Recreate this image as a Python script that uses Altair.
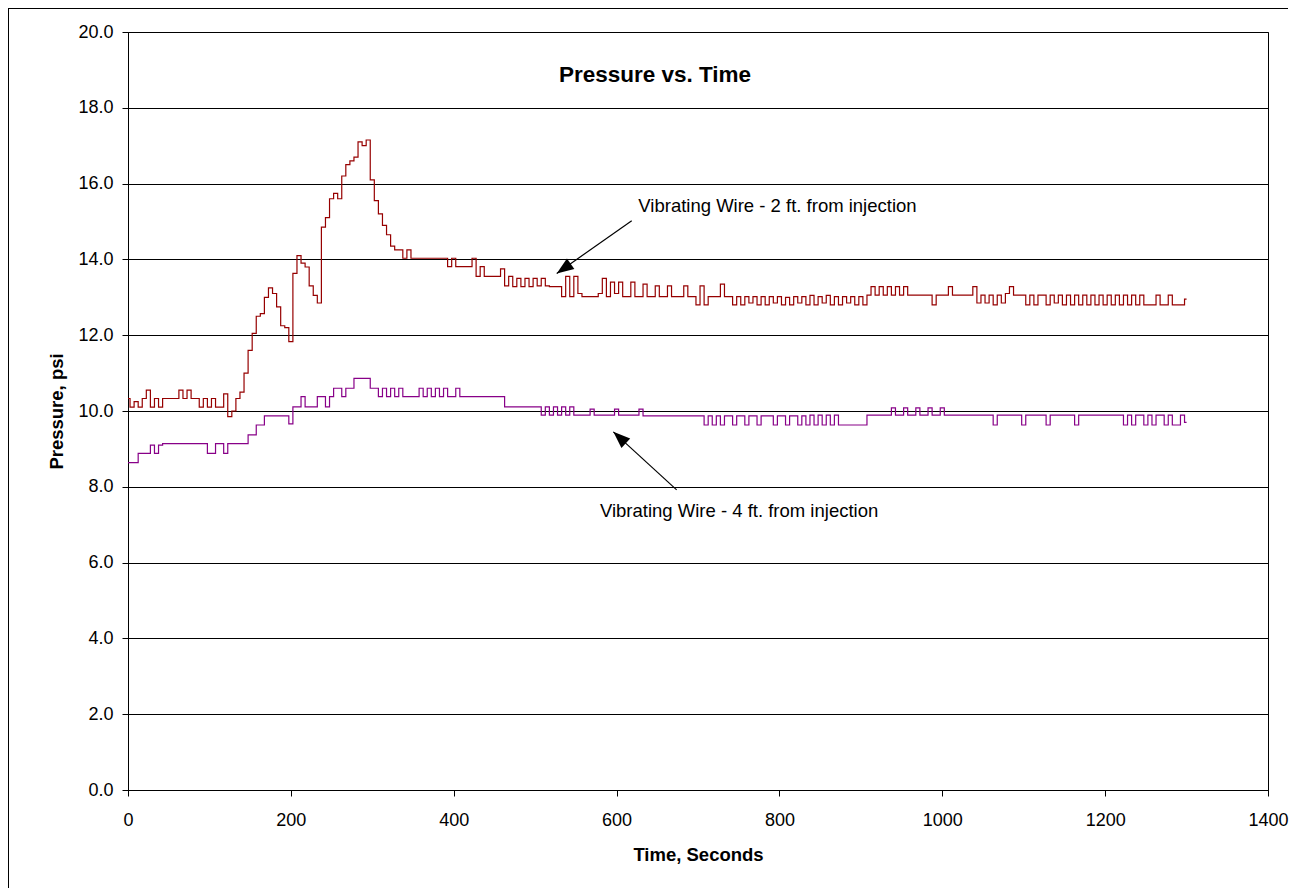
import altair as alt
import pandas as pd

# ---------------- data ----------------
TIME_S = list(range(0, 1301, 5))

VW_2FT = [
    10.33, 10.10, 10.25, 10.10, 10.33, 10.55, 10.10, 10.33, 10.10, 10.33,
    10.33, 10.33, 10.33, 10.55, 10.33, 10.55, 10.33, 10.33, 10.10, 10.33,
    10.10, 10.33, 10.10, 10.10, 10.45, 9.85, 10.00, 10.33, 10.50, 11.00,
    11.60, 12.05, 12.50, 12.57, 13.00, 13.25, 13.10, 12.75, 12.25, 12.20,
    11.83, 13.63, 14.10, 13.90, 13.80, 13.30, 13.05, 12.85, 14.85, 15.10,
    15.60, 15.74, 15.60, 16.20, 16.50, 16.60, 16.70, 17.10, 17.00, 17.15,
    16.10, 15.55, 15.20, 14.90, 14.65, 14.35, 14.25, 14.25, 14.03, 14.25,
    14.03, 14.03, 14.03, 14.03, 14.03, 14.03, 14.03, 14.03, 14.03, 13.81,
    14.03, 13.81, 13.81, 13.81, 13.81, 14.03, 13.55, 13.81, 13.55, 13.55,
    13.55, 13.55, 13.75, 13.30, 13.55, 13.28, 13.50, 13.28, 13.50, 13.28,
    13.50, 13.30, 13.50, 13.30, 13.28, 13.28, 13.28, 13.02, 13.55, 13.02,
    13.55, 13.10, 13.02, 13.02, 13.02, 13.02, 13.10, 13.50, 13.02, 13.40,
    13.10, 13.40, 13.02, 13.02, 13.40, 13.02, 13.02, 13.35, 13.02, 13.02,
    13.30, 13.02, 13.02, 13.30, 13.02, 13.02, 13.02, 13.30, 13.02, 13.02,
    12.80, 13.30, 12.80, 13.02, 13.02, 13.02, 13.35, 13.02, 13.02, 12.80,
    13.02, 12.80, 13.02, 12.85, 13.02, 12.80, 13.02, 12.80, 13.02, 12.85,
    13.02, 12.80, 13.00, 12.80, 13.02, 12.85, 13.02, 12.80, 13.05, 12.80,
    13.02, 12.85, 13.05, 12.80, 13.02, 12.80, 13.02, 12.85, 13.02, 12.80,
    13.02, 12.80, 13.06, 13.28, 13.06, 13.28, 13.06, 13.28, 13.06, 13.28,
    13.06, 13.28, 13.06, 13.06, 13.06, 13.06, 13.06, 13.06, 12.80, 13.06,
    13.06, 13.06, 13.28, 13.06, 13.06, 13.06, 13.06, 13.06, 13.28, 12.85,
    13.06, 12.85, 13.06, 12.80, 13.06, 12.85, 13.10, 13.28, 13.06, 13.06,
    13.06, 12.80, 13.06, 12.80, 13.06, 13.06, 12.80, 13.06, 12.85, 13.06,
    12.80, 13.06, 12.80, 13.06, 12.80, 13.06, 12.80, 13.06, 12.80, 13.06,
    12.80, 13.06, 12.80, 13.06, 12.80, 13.06, 12.80, 13.06, 12.80, 13.06,
    12.80, 12.80, 12.80, 13.06, 12.80, 12.80, 13.06, 12.80, 12.80, 12.80,
    12.95,
]

VW_4FT = [
    8.64, 8.64, 8.64, 8.88, 8.88, 8.88, 9.10, 8.88, 9.10, 9.14,
    9.14, 9.14, 9.14, 9.14, 9.14, 9.14, 9.14, 9.14, 9.14, 9.14,
    8.88, 8.88, 9.14, 9.14, 8.88, 9.14, 9.14, 9.14, 9.14, 9.14,
    9.37, 9.37, 9.63, 9.63, 9.87, 9.87, 9.87, 9.87, 9.87, 9.87,
    9.66, 10.11, 10.11, 10.38, 10.11, 10.11, 10.11, 10.38, 10.38, 10.11,
    10.38, 10.60, 10.60, 10.38, 10.60, 10.60, 10.86, 10.86, 10.86, 10.86,
    10.60, 10.60, 10.38, 10.60, 10.38, 10.60, 10.38, 10.60, 10.38, 10.38,
    10.38, 10.38, 10.60, 10.38, 10.60, 10.38, 10.60, 10.38, 10.60, 10.38,
    10.38, 10.60, 10.38, 10.38, 10.38, 10.38, 10.38, 10.38, 10.38, 10.38,
    10.38, 10.38, 10.38, 10.11, 10.11, 10.11, 10.11, 10.11, 10.11, 10.11,
    10.11, 10.11, 9.89, 10.11, 9.89, 10.11, 9.89, 10.11, 9.89, 10.11,
    9.89, 9.89, 9.89, 9.89, 10.05, 9.89, 9.89, 9.89, 9.89, 9.89,
    10.05, 9.89, 9.89, 9.89, 9.89, 9.89, 10.05, 9.87, 9.87, 9.87,
    9.87, 9.87, 9.87, 9.87, 9.87, 9.87, 9.87, 9.87, 9.87, 9.87,
    9.87, 9.87, 9.63, 9.87, 9.63, 9.87, 9.63, 9.87, 9.87, 9.63,
    9.87, 9.87, 9.63, 9.87, 9.87, 9.63, 9.87, 9.87, 9.87, 9.63,
    9.87, 9.87, 9.63, 9.87, 9.87, 9.63, 9.87, 9.63, 9.89, 9.63,
    9.89, 9.63, 9.89, 9.63, 9.89, 9.63, 9.63, 9.63, 9.63, 9.63,
    9.63, 9.63, 9.89, 9.89, 9.89, 9.89, 9.89, 9.89, 10.08, 9.89,
    9.89, 10.08, 9.89, 9.89, 10.08, 9.89, 9.89, 10.08, 9.89, 9.89,
    10.08, 9.89, 9.89, 9.89, 9.89, 9.89, 9.89, 9.89, 9.89, 9.89,
    9.89, 9.89, 9.89, 9.63, 9.89, 9.89, 9.89, 9.89, 9.89, 9.89,
    9.63, 9.89, 9.89, 9.89, 9.89, 9.89, 9.63, 9.89, 9.89, 9.89,
    9.89, 9.89, 9.89, 9.63, 9.89, 9.89, 9.89, 9.89, 9.89, 9.89,
    9.89, 9.89, 9.89, 9.89, 9.89, 9.63, 9.89, 9.63, 9.89, 9.89,
    9.63, 9.89, 9.63, 9.89, 9.89, 9.63, 9.89, 9.63, 9.63, 9.89,
    9.70,
]

SERIES = ["Vibrating Wire - 2 ft. from injection", "Vibrating Wire - 4 ft. from injection"]
COLORS = ["#960000", "#880088"]

X_TICKS = [0, 200, 400, 600, 800, 1000, 1200, 1400]
Y_TICKS = [0, 2, 4, 6, 8, 10, 12, 14, 16, 18, 20]

TITLE = "Pressure vs. Time"
X_TITLE = "Time, Seconds"
Y_TITLE = "Pressure, psi"

# annotation labels and arrows (data units)
LABEL_TEXT = SERIES
LABEL_T = [626.7, 579.6]
LABEL_P = [15.25, 7.20]
ARROW_T_FROM = [618.6, 673.8]
ARROW_P_FROM = [15.02, 7.92]
ARROW_T_TO = [526.5, 596.0]
ARROW_P_TO = [13.63, 9.45]
ARROW_ANGLE = [235, 312.6]

FONT = "Liberation Sans"

# ---------------- tables ----------------
rows = []
for t, v in zip(TIME_S, VW_2FT):
    rows.append({"time": t, "pressure": v, "series": SERIES[0]})
for t, v in zip(TIME_S, VW_4FT):
    rows.append({"time": t, "pressure": v, "series": SERIES[1]})
df = pd.DataFrame(rows)

labels_df = pd.DataFrame({"time": LABEL_T, "pressure": LABEL_P, "label": LABEL_TEXT})
arrows_df = pd.DataFrame({
    "time": ARROW_T_FROM, "pressure": ARROW_P_FROM,
    "time2": ARROW_T_TO, "pressure2": ARROW_P_TO,
})
heads_df = pd.DataFrame({"time": ARROW_T_TO, "pressure": ARROW_P_TO, "ang": ARROW_ANGLE})
title_df = pd.DataFrame({"label": [TITLE]})
frame_df = pd.DataFrame({"k": [0]})

x_scale = alt.Scale(domain=[0, 1400], nice=False)
y_scale = alt.Scale(domain=[0, 20], nice=False)

lines = alt.Chart(df).mark_line(strokeWidth=1.2, interpolate="step").encode(
    x=alt.X("time:Q", scale=x_scale,
            axis=alt.Axis(values=X_TICKS, format="d", title=X_TITLE, grid=False,
                          labelFlush=False,
                          labelPadding=15, titleY=70, titleBaseline="alphabetic")),
    y=alt.Y("pressure:Q", scale=y_scale,
            axis=alt.Axis(values=Y_TICKS, format=".1f", title=Y_TITLE, grid=True,
                          labelFlush=False,
                          labelPadding=9, titleX=-72, titleBaseline="middle")),
    color=alt.Color("series:N", scale=alt.Scale(domain=SERIES, range=COLORS), legend=None),
)

arrows = alt.Chart(arrows_df).mark_rule(color="black", strokeWidth=1.2).encode(
    x="time:Q", y="pressure:Q", x2="time2:Q", y2="pressure2:Q",
)

heads = alt.Chart(heads_df).mark_point(
    shape="M0,0L0.38,1L-0.38,1Z", filled=True, color="black", opacity=1, size=1156,
).encode(
    x="time:Q", y="pressure:Q", angle=alt.Angle("ang:Q", scale=None),
)

texts = alt.Chart(labels_df).mark_text(
    align="left", baseline="alphabetic", font=FONT, fontSize=18.5, color="black",
).encode(x="time:Q", y="pressure:Q", text="label:N")

title_txt = alt.Chart(title_df).mark_text(
    align="center", baseline="alphabetic", font=FONT, fontSize=22.5, fontWeight="bold", color="black",
).encode(x=alt.value(527), y=alt.value(50), text="label:N")

border_left = alt.Chart(frame_df).mark_rule(color="black", strokeWidth=1).encode(
    x=alt.value(-119.5), y=alt.value(-24), y2=alt.value(860),
)
border_top = alt.Chart(frame_df).mark_rule(color="black", strokeWidth=1).encode(
    x=alt.value(-120), x2=alt.value(1160), y=alt.value(-23.5),
)

chart = alt.layer(
    lines, arrows, heads, texts, title_txt, border_left, border_top,
).properties(
    width=1140, height=758,
    padding={"left": 120, "top": 24, "right": 23, "bottom": 98},
    autosize=alt.AutoSizeParams(type="none"),
    background="white",
).configure_axis(
    labelFont=FONT, labelFontSize=18, labelColor="black",
    titleFont=FONT, titleFontSize=18.5, titleFontWeight="bold", titleColor="black",
    domainColor="black", tickColor="black", tickSize=6,
    gridColor="black", gridWidth=1, gridOpacity=1,
).configure_view(stroke="black", strokeWidth=1)

chart.save("out.html", embed_options={"renderer": "svg", "actions": False})
